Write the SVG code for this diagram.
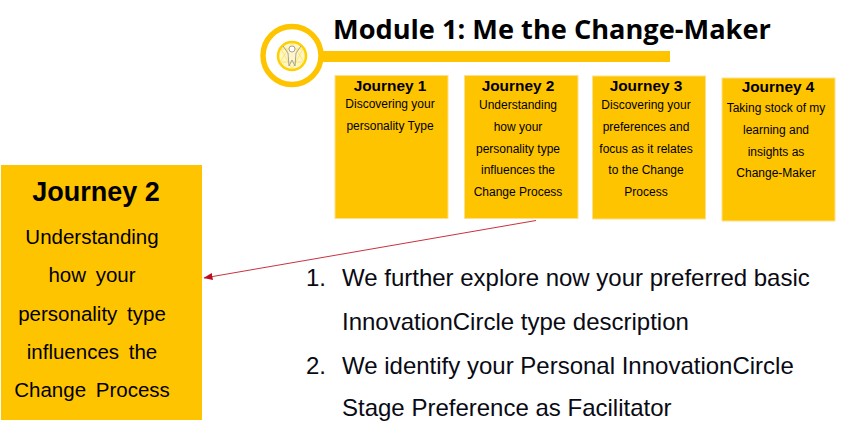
<svg xmlns="http://www.w3.org/2000/svg" width="853" height="436" viewBox="0 0 853 436">
<style>
text{font-family:"Liberation Sans",Arial,sans-serif;fill:#000}
.box{fill:#ffc400;stroke:#ffe08a;stroke-width:1}
.jt{font-size:15.4px;font-weight:bold;text-anchor:middle}
.jb{font-size:12px;text-anchor:middle}
.bt{font-size:20.5px;text-anchor:middle;word-spacing:4px}
.li{font-size:24px;fill:#0a0a14}
</style>
<defs><marker id="arr" markerUnits="userSpaceOnUse" markerWidth="10" markerHeight="8" refX="8.500" refY="3.500" orient="auto"><path d="M0 0L9 3.500L0 7z" fill="#c00d1e"/></marker></defs>
<rect width="853" height="436" fill="#fff"/>
<g id="header">
<rect x="320" y="51" width="350" height="11" fill="#ffc400"/>
<circle cx="292" cy="55.500" r="29" fill="#fff" stroke="#ffc400" stroke-width="5.500"/>
<circle cx="292" cy="56" r="14" fill="#fff6c8" stroke="#ffd000" stroke-width="2.500"/>
<g fill="none" stroke="#ffe25a" stroke-width="0.800"><path d="M280 62L292 43L304 62zM281 49L303 49L292 69z"/></g>
<g fill="#fff" stroke="#9a9a9a" stroke-width="0.900"><circle cx="292" cy="49" r="3"/><path d="M283 46L288 53L289 66L292 60L295 66L296 53L301 46" fill="none"/></g>
<text x="333" y="39" style="font-family:'Open Sans','DejaVu Sans',sans-serif;font-size:27.200px;font-weight:700">Module 1: Me the Change-Maker</text>
</g>
<g id="journey1"><rect class="box" x="335" y="75.500" width="113" height="143"/><text class="jt" x="390" y="91">Journey 1</text><text class="jb" x="390" y="108">Discovering your</text><text class="jb" x="390" y="130">personality Type</text></g>
<g id="journey2"><rect class="box" x="464.500" y="75.500" width="113.500" height="143"/><text class="jt" x="518" y="91">Journey 2</text><text class="jb"><tspan x="518" y="109">Understanding</tspan><tspan x="518" y="131">how your</tspan><tspan x="518" y="153">personality type</tspan><tspan x="518" y="174">influences the</tspan><tspan x="518" y="196">Change Process</tspan></text></g>
<g id="journey3"><rect class="box" x="592.500" y="76" width="113" height="143"/><text class="jt" x="646" y="91">Journey 3</text><text class="jb"><tspan x="646" y="109">Discovering your</tspan><tspan x="646" y="131">preferences and</tspan><tspan x="646" y="153">focus as it relates</tspan><tspan x="646" y="174">to the Change</tspan><tspan x="646" y="196">Process</tspan></text></g>
<g id="journey4"><rect class="box" x="722" y="78" width="113" height="143"/><text class="jt" x="778" y="92">Journey 4</text><text class="jb"><tspan x="776" y="112">Taking stock of my</tspan><tspan x="776" y="134">learning and</tspan><tspan x="776" y="156">insights as</tspan><tspan x="776" y="177">Change-Maker</tspan></text></g>
<g id="journey2-large"><rect x="1" y="165" width="201" height="255" fill="#ffc400"/><text x="96" y="201" style="font-size:27px;font-weight:bold;text-anchor:middle">Journey 2</text><text class="bt"><tspan x="92" y="244">Understanding</tspan><tspan x="92" y="282">how your</tspan><tspan x="92" y="321">personality type</tspan><tspan x="92" y="359">influences the</tspan><tspan x="92" y="397">Change Process</tspan></text></g>
<g id="connectors"><line x1="536" y1="220.500" x2="204" y2="278" stroke="#c8323f" stroke-width="1" marker-end="url(#arr)"/></g>
<g id="list"><text class="li" x="306" y="286">1.</text><text class="li" x="342" y="286">We further explore now your preferred basic</text><text class="li" x="342" y="330">InnovationCircle type description</text><text class="li" x="306" y="374">2.</text><text class="li" x="342" y="374">We identify your Personal InnovationCircle</text><text class="li" x="342" y="416">Stage Preference as Facilitator</text></g>
</svg>
